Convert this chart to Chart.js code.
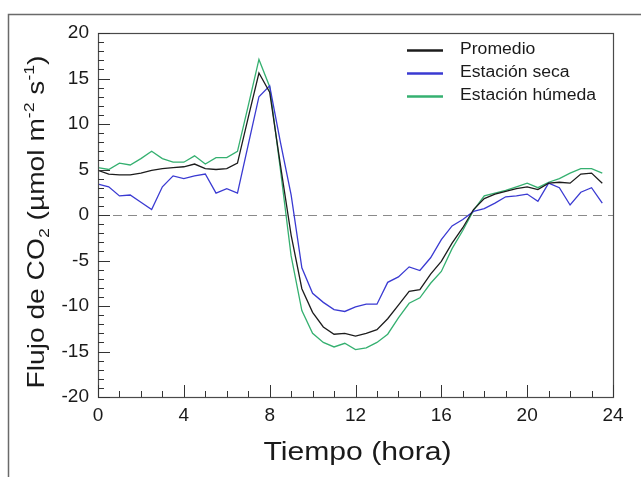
<!DOCTYPE html>
<html>
<head>
<meta charset="utf-8">
<script src="https://cdn.jsdelivr.net/npm/chart.js@4.4.0/dist/chart.umd.min.js"></script>
<style>
  html, body { margin: 0; padding: 0; background: #fff; }
  #wrap { position: relative; width: 641px; height: 477px; }
</style>
</head>
<body>
<div id="wrap"><canvas id="fluxChart" width="641" height="477"></canvas></div>
<script>
// Hours of the day (half-hourly)
const hours = [0, 0.5, 1, 1.5, 2, 2.5, 3, 3.5, 4, 4.5, 5, 5.5, 6, 6.5, 7, 7.5,
  8, 8.5, 9, 9.5, 10, 10.5, 11, 11.5, 12, 12.5, 13, 13.5, 14, 14.5, 15, 15.5,
  16, 16.5, 17, 17.5, 18, 18.5, 19, 19.5, 20, 20.5, 21, 21.5, 22, 22.5, 23, 23.5];

// CO2 flux
const promedio = [4.9, 4.5, 4.4, 4.4, 4.6, 4.9, 5.1, 5.2, 5.3, 5.6, 5.1, 5.0, 5.1, 5.7, 10.7, 15.6,
  13.5, 5.5, -2.2, -8.1, -10.7, -12.3, -13.1, -13.0, -13.3, -13.0, -12.6, -11.4, -9.9, -8.4, -8.2, -6.5,
  -5.1, -3.1, -1.4, 0.6, 1.8, 2.3, 2.6, 2.9, 3.1, 2.8, 3.5, 3.6, 3.5, 4.5, 4.6, 3.5];
const estacionSeca = [3.4, 3.1, 2.1, 2.2, 1.4, 0.6, 3.1, 4.3, 4.0, 4.3, 4.5, 2.4, 2.9, 2.4, 7.7, 13.0,
  14.2, 8.0, 2.2, -5.8, -8.6, -9.6, -10.4, -10.6, -10.1, -9.8, -9.8, -7.4, -6.8, -5.7, -6.1, -4.7,
  -2.7, -1.2, -0.5, 0.4, 0.7, 1.3, 2.0, 2.1, 2.3, 1.5, 3.5, 3.0, 1.1, 2.5, 3.0, 1.3];
const estacionHumeda = [5.2, 5.0, 5.7, 5.5, 6.2, 7.0, 6.2, 5.8, 5.8, 6.5, 5.6, 6.3, 6.3, 7.0, 12.0, 17.1,
  14.1, 5.0, -4.5, -10.5, -13.0, -14.0, -14.5, -14.1, -14.8, -14.6, -14.0, -13.1, -11.3, -9.7, -9.1, -7.5,
  -6.2, -3.7, -1.7, 0.5, 2.1, 2.4, 2.7, 3.1, 3.5, 3.0, 3.6, 4.0, 4.6, 5.1, 5.1, 4.6];

const seriesLabels = ["Promedio", "Estación seca", "Estación húmeda"];
const xTickLabels = [0, 4, 8, 12, 16, 20, 24];
const yTickLabels = [-20, -15, -10, -5, 0, 5, 10, 15, 20];

const FONT = "'Liberation Sans', Arial, sans-serif";
const colors = ["#1c1c1c", "#3a3ad2", "#35b070"];

function toPoints(vals) {
  return hours.map((h, i) => ({ x: h, y: vals[i] }));
}

// draws text pieces (with sub/superscripts) stretched to a given width, centred at (0, 0)
function drawPieces(ctx, pieces, width) {
  let total = 0;
  pieces.forEach((p) => {
    ctx.font = p.size + "px " + FONT;
    p.w = ctx.measureText(p.t).width;
    total += p.w;
  });
  const sx = width / total;
  ctx.save();
  ctx.scale(sx, 1);
  let x = -total / 2;
  ctx.textAlign = "left";
  ctx.textBaseline = "alphabetic";
  pieces.forEach((p) => {
    ctx.font = p.size + "px " + FONT;
    ctx.fillText(p.t, x, p.dy || 0);
    x += p.w;
  });
  ctx.restore();
}

const decorations = {
  id: "decorations",
  beforeDatasetsDraw(chart) {
    const { ctx, chartArea: a, scales } = chart;
    // dashed zero line
    const y0 = Math.round(scales.y.getPixelForValue(0)) + 0.5;
    ctx.save();
    ctx.strokeStyle = "#8a8a8a";
    ctx.lineWidth = 1.2;
    ctx.setLineDash([9, 6]);
    ctx.beginPath();
    ctx.moveTo(a.left, y0);
    ctx.lineTo(a.right, y0);
    ctx.stroke();
    ctx.restore();
  },
  afterDraw(chart) {
    const { ctx, chartArea: a, scales } = chart;
    ctx.save();
    // outer frame
    ctx.strokeStyle = "#6a6a6a";
    ctx.lineWidth = 1.5;
    ctx.beginPath();
    ctx.moveTo(8.5, 477);
    ctx.lineTo(8.5, 14.5);
    ctx.lineTo(641, 14.5);
    ctx.stroke();

    // plot box
    ctx.strokeStyle = "#4a4a4a";
    ctx.lineWidth = 1.2;
    ctx.strokeRect(a.left + 0.5, a.top + 0.5, a.right - a.left, a.bottom - a.top);

    // inner ticks
    ctx.lineWidth = 1;
    ctx.strokeStyle = "#333";
    ctx.beginPath();
    for (let v = -20; v <= 20; v++) {
      const y = Math.round(scales.y.getPixelForValue(v)) + 0.5;
      const len = v % 5 === 0 ? 12 : 6;
      ctx.moveTo(a.left, y);
      ctx.lineTo(a.left + len, y);
    }
    for (let h = 0; h <= 24; h++) {
      const x = Math.round(scales.x.getPixelForValue(h)) + 0.5;
      const len = h % 4 === 0 ? 12 : 6;
      ctx.moveTo(x, a.bottom);
      ctx.lineTo(x, a.bottom - len);
    }
    ctx.stroke();

    // axis titles
    ctx.fillStyle = "#1a1a1a";
    ctx.save();
    ctx.translate((a.left + a.right) / 2 + 2, 460);
    drawPieces(ctx, [{ t: "Tiempo (hora)", size: 25 }], 188);
    ctx.restore();

    ctx.save();
    ctx.translate(44, 222);
    ctx.rotate(-Math.PI / 2);
    drawPieces(ctx, [
      { t: "Flujo de CO", size: 24 },
      { t: "2", size: 15, dy: 5 },
      { t: " (µmol m", size: 24 },
      { t: "-2", size: 15, dy: -10 },
      { t: " s", size: 24 },
      { t: "-1", size: 15, dy: -10 },
      { t: ")", size: 24 },
    ], 333);
    ctx.restore();

    // legend inside the plot
    const rows = [50, 73, 96];
    chart.data.datasets.forEach((ds, i) => {
      ctx.strokeStyle = ds.borderColor;
      ctx.lineWidth = 2.5;
      ctx.beginPath();
      ctx.moveTo(407, rows[i] + 0.5);
      ctx.lineTo(443, rows[i] + 0.5);
      ctx.stroke();
      ctx.save();
      ctx.fillStyle = "#1a1a1a";
      ctx.font = "16px " + FONT;
      ctx.textBaseline = "middle";
      ctx.translate(460, rows[i]);
      ctx.scale(1.1, 1);
      ctx.fillText(ds.label, 0, 0);
      ctx.restore();
    });
    ctx.restore();
  },
};

const ctx = document.getElementById("fluxChart").getContext("2d");
new Chart(ctx, {
  type: "line",
  data: {
    datasets: [
      { label: seriesLabels[0], data: toPoints(promedio), borderColor: colors[0] },
      { label: seriesLabels[1], data: toPoints(estacionSeca), borderColor: colors[1] },
      { label: seriesLabels[2], data: toPoints(estacionHumeda), borderColor: colors[2] },
    ].map((d) => ({ ...d, borderWidth: 1.3, pointRadius: 0, tension: 0, fill: false })),
  },
  options: {
    responsive: false,
    animation: false,
    layout: { padding: { left: 0, top: 33, right: 28, bottom: 0 } },
    plugins: { legend: { display: false }, tooltip: { enabled: false } },
    scales: {
      x: {
        type: "linear",
        min: 0,
        max: 24,
        afterBuildTicks: (s) => { s.ticks = xTickLabels.map((v) => ({ value: v })); },
        afterFit: (s) => { s.height = 80; },
        grid: { display: false, drawTicks: false },
        border: { display: false },
        ticks: { padding: 7, color: "#1a1a1a", font: { family: FONT, size: 19 }, maxRotation: 0, autoSkip: false },
      },
      y: {
        min: -20,
        max: 20,
        afterBuildTicks: (s) => { s.ticks = yTickLabels.map((v) => ({ value: v })); },
        afterFit: (s) => { s.width = 98; },
        grid: { display: false, drawTicks: false },
        border: { display: false },
        ticks: { padding: 9, color: "#1a1a1a", font: { family: FONT, size: 19 }, autoSkip: false },
      },
    },
  },
  plugins: [decorations],
});
</script>
</body>
</html>
